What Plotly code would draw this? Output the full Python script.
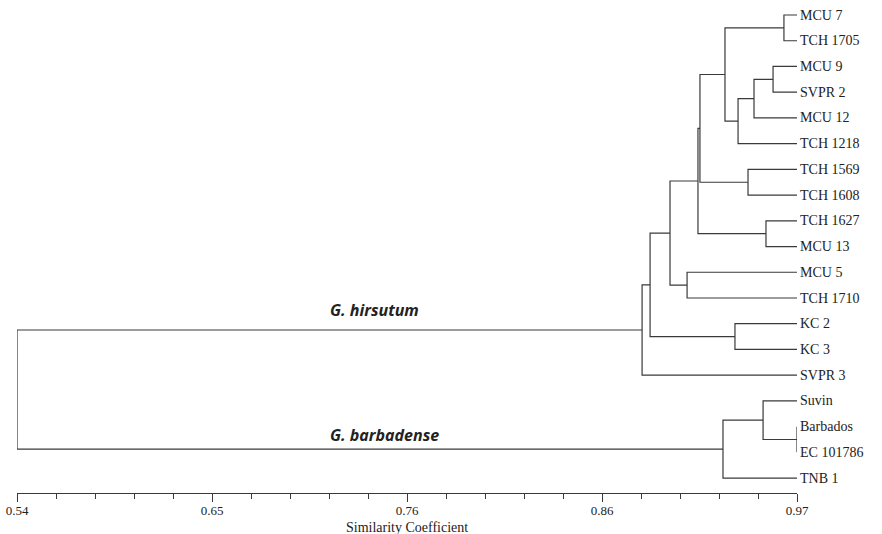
import numpy as np
import plotly.graph_objects as go

# ---- data ----
leaves = ["MCU 7", "TCH 1705", "MCU 9", "SVPR 2", "MCU 12", "TCH 1218",
          "TCH 1569", "TCH 1608", "TCH 1627", "MCU 13", "MCU 5", "TCH 1710",
          "KC 2", "KC 3", "SVPR 3", "Suvin", "Barbados", "EC 101786", "TNB 1"]
# merges: (child a, child b, similarity); new nodes are numbered after leaves
merge_a = ["MCU 7", "MCU 9", "n20", "n21", "n19", "TCH 1569", "n23", "TCH 1627",
           "n25", "MCU 5", "n27", "KC 2", "n29", "n31", "Barbados", "Suvin", "n34", "n32"]
merge_b = ["TCH 1705", "SVPR 2", "MCU 12", "TCH 1218", "n22", "TCH 1608", "n24", "MCU 13",
           "n26", "TCH 1710", "n28", "KC 3", "n30", "SVPR 3", "EC 101786", "n33", "TNB 1", "n35"]
merge_h = [0.9628, 0.9568, 0.9463, 0.9375, 0.9303, 0.9430, 0.9165, 0.9529,
           0.9154, 0.9094, 0.9000, 0.9358, 0.8890, 0.8846, 0.9700, 0.9513, 0.9292, 0.54]
group_names = ["G. hirsutum", "G. barbadense"]
group_nodes = ["n32", "n35"]
axis_min, axis_max = 0.54, 0.97
tick_text = ["0.54", "0.65", "0.76", "0.86", "0.97"]
axis_title = "Similarity Coefficient"

# ---- geometry from tree ----
pos = {}
for i, name in enumerate(leaves):
    pos[name] = (axis_max, float(i))
segx, segy = [], []
for k, (a, b, h) in enumerate(zip(merge_a, merge_b, merge_h)):
    xa, ya = pos[a]
    xb, yb = pos[b]
    segx += [xa, h, h, xb, None]
    segy += [ya, ya, yb, yb, None]
    pos["n%d" % (len(leaves) + k)] = (h, (ya + yb) / 2)

fig = go.Figure()
fig.add_trace(go.Scatter(x=segx, y=segy, mode="lines",
                         line=dict(color="#3a3a3a", width=1.2),
                         hoverinfo="skip", showlegend=False))

for i, name in enumerate(leaves):
    fig.add_annotation(x=axis_max, y=i, text=name, xanchor="left", yanchor="middle",
                       xshift=1, showarrow=False,
                       font=dict(family="Liberation Serif", size=14, color="#222"))

shifts = [20, 14]
for g, node, ys in zip(group_names, group_nodes, shifts):
    fig.add_annotation(x=0.7115, y=pos[node][1], text="<b><i>%s</i></b>" % g,
                       xanchor="left", yanchor="middle", yshift=ys, showarrow=False,
                       font=dict(family="Open Sans", size=16, color="#222"))

fig.add_annotation(xref="paper", yref="paper", x=0.5, y=0, yshift=-34,
                   xanchor="center", yanchor="middle", text=axis_title, showarrow=False,
                   font=dict(family="Liberation Serif", size=14, color="#222"))

major = list(np.linspace(axis_min, axis_max, 5))
minor = list(np.linspace(axis_min, axis_max, 21))
n = len(leaves)
fig.update_layout(
    width=882, height=534, plot_bgcolor="white", paper_bgcolor="white",
    margin=dict(l=17, r=85, t=5, b=41, autoexpand=False),
    xaxis=dict(range=[axis_min, axis_max], tickvals=major, ticktext=tick_text,
               showgrid=False, zeroline=False, showline=True, linecolor="#3a3a3a",
               linewidth=1.2, ticks="outside", ticklen=8, tickcolor="#3a3a3a",
               automargin=False, ticklabelstandoff=-3,
               tickfont=dict(family="Liberation Serif", size=13, color="#222"),
               minor=dict(tickvals=minor, ticks="outside", ticklen=5, tickcolor="#3a3a3a")),
    yaxis=dict(range=[n - 1 + 0.58, -0.389], visible=False, showgrid=False, zeroline=False),
)
fig.write_html("out.html", config={"displayModeBar": False},
               post_script="document.body.style.margin='0';")
